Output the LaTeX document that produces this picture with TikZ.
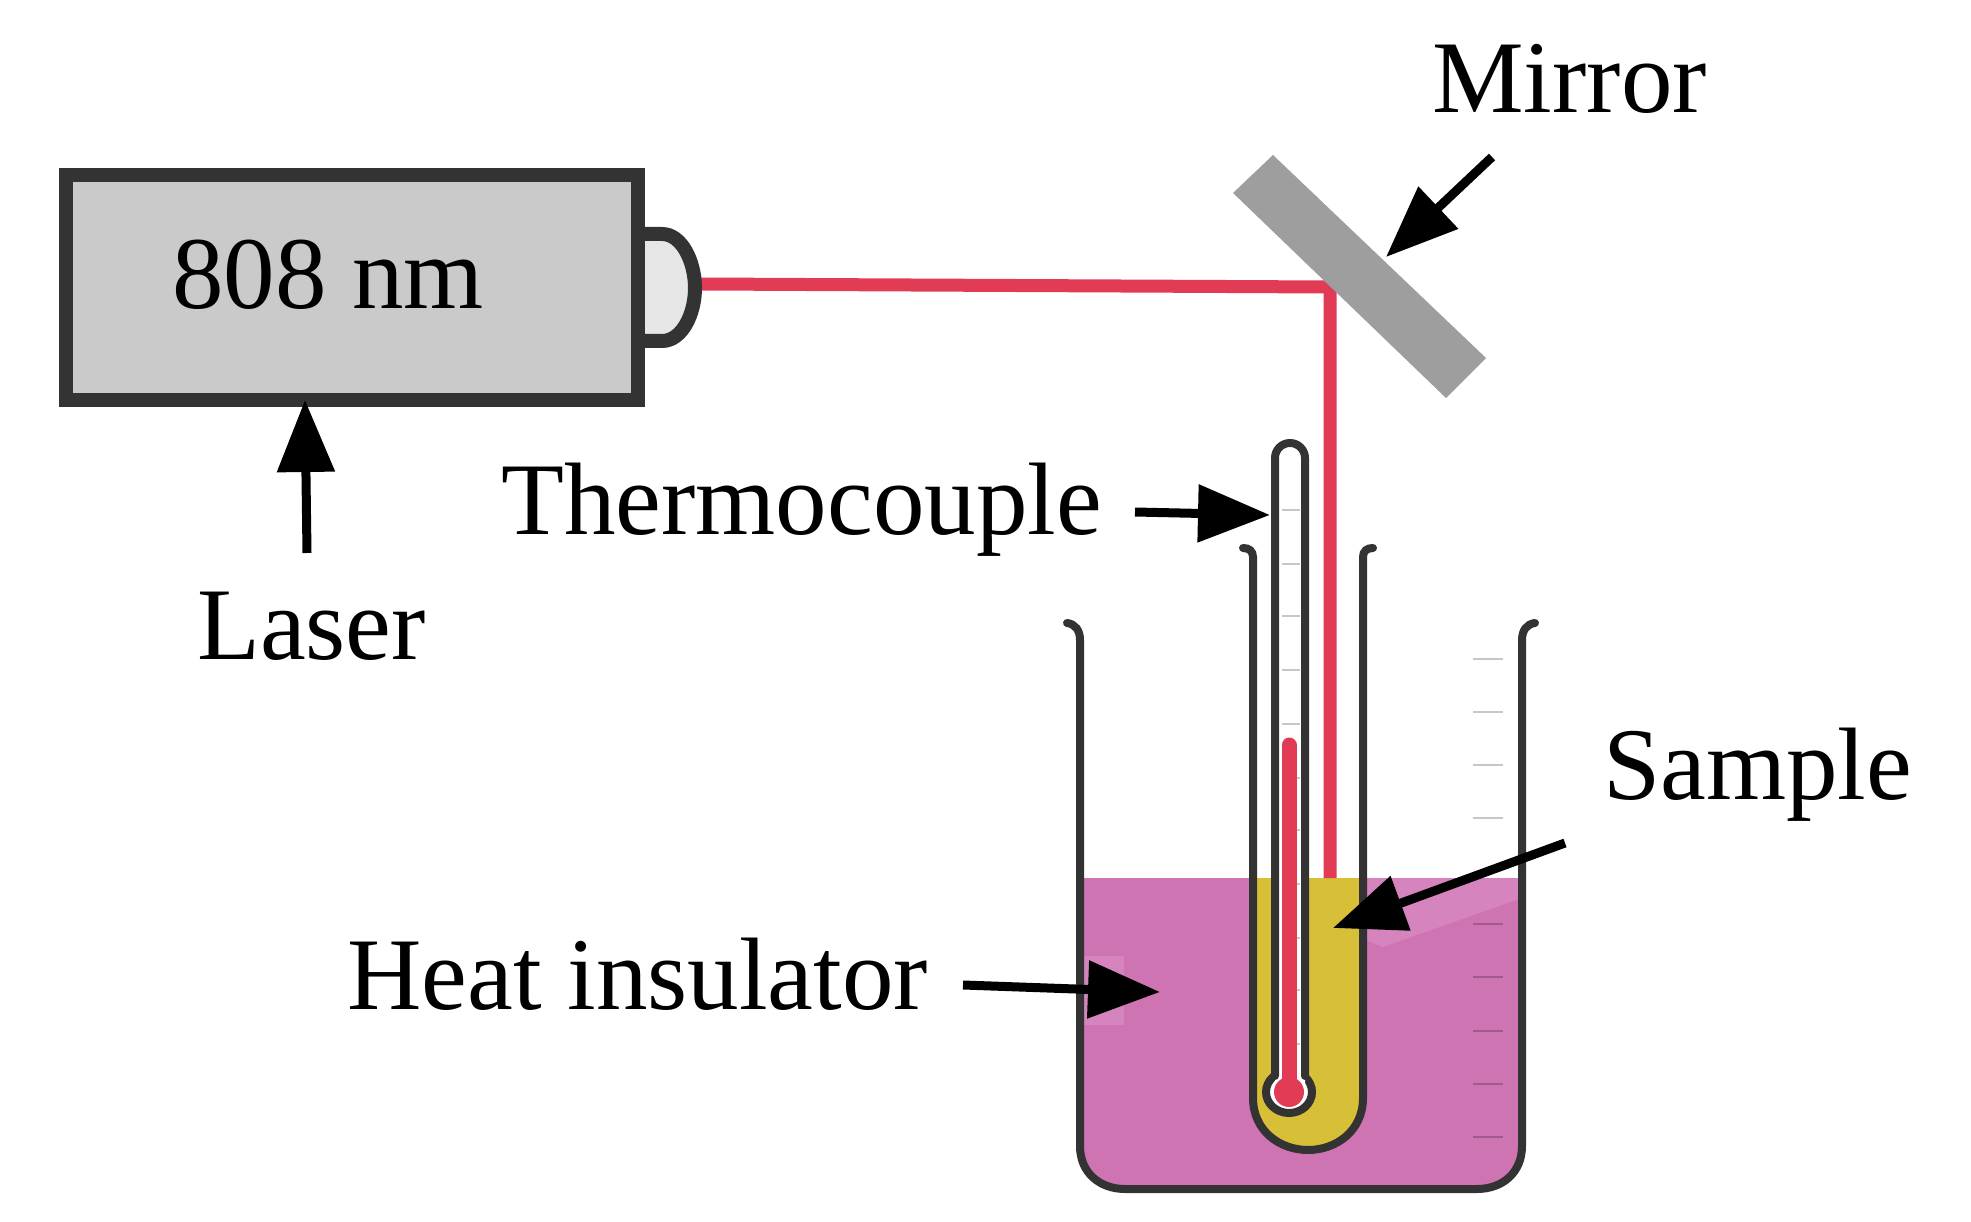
\documentclass[tikz,border=0pt]{standalone}
\usepackage{fontspec}
\setmainfont{Liberation Serif}
\usetikzlibrary{arrows.meta}
\definecolor{ink}{HTML}{333333}
\definecolor{beamred}{HTML}{E23B55}
\definecolor{liquid}{HTML}{CF74B3}
\definecolor{liquidlt}{HTML}{D584BD}
\definecolor{sampley}{HTML}{D7BF38}
\definecolor{mirrorgrey}{HTML}{9E9E9E}
\definecolor{boxgrey}{HTML}{CACACA}
\definecolor{lensgrey}{HTML}{E6E6E6}
\tikzset{
  lbl/.style={inner sep=0pt,anchor=base west,font=\fontsize{103}{110}\selectfont,text=black},
  pointer/.style={draw=black,line width=9pt,-{Triangle[length=72pt,width=56pt,fill=black]}},
  glass/.style={draw=ink,line width=8pt,line cap=round},
  beam/.style={draw=beamred,line width=13pt},
  tickmark/.style={draw=black,draw opacity=.22,line width=2pt}
}
\begin{document}
\begin{tikzpicture}[x=1pt,y=-1pt]
\useasboundingbox (0,0) rectangle (1971,1222);
\fill[white] (0,0) rectangle (1971,1222);
% liquid
\fill[liquid] (1080,878) -- (1080,1146) .. controls (1080,1173) and (1100,1189) .. (1125,1189) -- (1477,1189) .. controls (1502,1189) and (1522,1173) .. (1522,1146) -- (1522,878) -- cycle;
\fill[liquidlt] (1365,878) -- (1519,878) -- (1519,899) -- (1383,947) -- (1365,940) -- cycle;
\fill[liquidlt] (1080,956) rectangle (1124,1025);
% beaker scale
\foreach \yy in {659,712,765,818,924,977,1031,1084,1137}
  \draw[tickmark] (1473,\yy) -- (1503,\yy);
% sample
\fill[sampley] (1253,878) -- (1253,1098) .. controls (1253,1131) and (1280,1150) .. (1308,1150) .. controls (1336,1150) and (1363,1131) .. (1363,1098) -- (1363,878) -- cycle;
% beam
\coordinate (lens) at (701,284);
\coordinate (fold) at (1330,287);
\coordinate (surface) at (1330,878);
\draw[beam,line join=miter] (lens) -- (fold) -- (surface);
% mirror
\fill[mirrorgrey] (1273,155) -- (1233,193) -- (1446,398) -- (1486,358) -- cycle;
% laser
\draw[draw=ink,line width=14pt,fill=lensgrey] (645,234) -- (662,234) .. controls (682,234) and (695,262) .. (695,288) .. controls (695,314) and (682,341) .. (662,341) -- (645,341);
\node[draw=ink,fill=boxgrey,line width=14pt,minimum width=572pt,minimum height=225pt,inner sep=0pt,outer sep=0pt] (laser) at (352,288) {};
\node[lbl] (wave) at (172,309) {808 nm};
% inner tube
\draw[glass] (1243,548) .. controls (1249,548) and (1253,551) .. (1253,557) -- (1253,1098) .. controls (1253,1131) and (1280,1150) .. (1308,1150) .. controls (1336,1150) and (1363,1131) .. (1363,1098) -- (1363,557) .. controls (1363,551) and (1367,548) .. (1373,548);
% thermometer
\draw[glass,fill=white] (1289,1092) ellipse [x radius=23pt,y radius=21pt];
\fill[white] (1275,458) arc[start angle=180,end angle=0,radius=15pt] -- (1305,1088) -- (1275,1088) -- cycle;
\foreach \yy in {510,564,616,670,724,778,830,884,938,990,1044}
  \draw[tickmark] (1282,\yy) -- (1300,\yy);
\draw[glass] (1275,1076) -- (1275,458) arc[start angle=180,end angle=0,radius=15pt] -- (1305,1076);
\draw[draw=beamred,line width=15pt,line cap=round] (1289,745) -- (1289,1088);
\fill[beamred] (1289,1092) circle [radius=15pt];
% beaker
\draw[glass] (1067,623) .. controls (1075,624) and (1080,630) .. (1080,640) -- (1080,1146) .. controls (1080,1173) and (1100,1189) .. (1125,1189) -- (1477,1189) .. controls (1502,1189) and (1522,1173) .. (1522,1146) -- (1522,640) .. controls (1522,630) and (1527,624) .. (1535,623);
% labels
\node[lbl] (mirror) at (1432,113) {Mirror};
\node[lbl] (thermo) at (501,534) {Thermocouple};
\node[lbl] (lasertxt) at (197,659) {Laser};
\node[lbl] (sample) at (1603,799) {Sample};
\node[lbl] (heat) at (347,1009) {Heat insulator};
% pointers
\coordinate (mt) at (1492,157); \coordinate (mh) at (1386,257);
\coordinate (lt) at (307,553);  \coordinate (lh) at (305,400);
\coordinate (tt) at (1135,512); \coordinate (th) at (1270,515);
\coordinate (st) at (1565,843); \coordinate (sh) at (1333,928);
\coordinate (ht) at (963,985);  \coordinate (hh) at (1160,992);
\draw[pointer] (mt) -- (mh);
\draw[pointer] (lt) -- (lh);
\draw[pointer] (tt) -- (th);
\draw[pointer] (st) -- (sh);
\draw[pointer] (ht) -- (hh);
\end{tikzpicture}
\end{document}
